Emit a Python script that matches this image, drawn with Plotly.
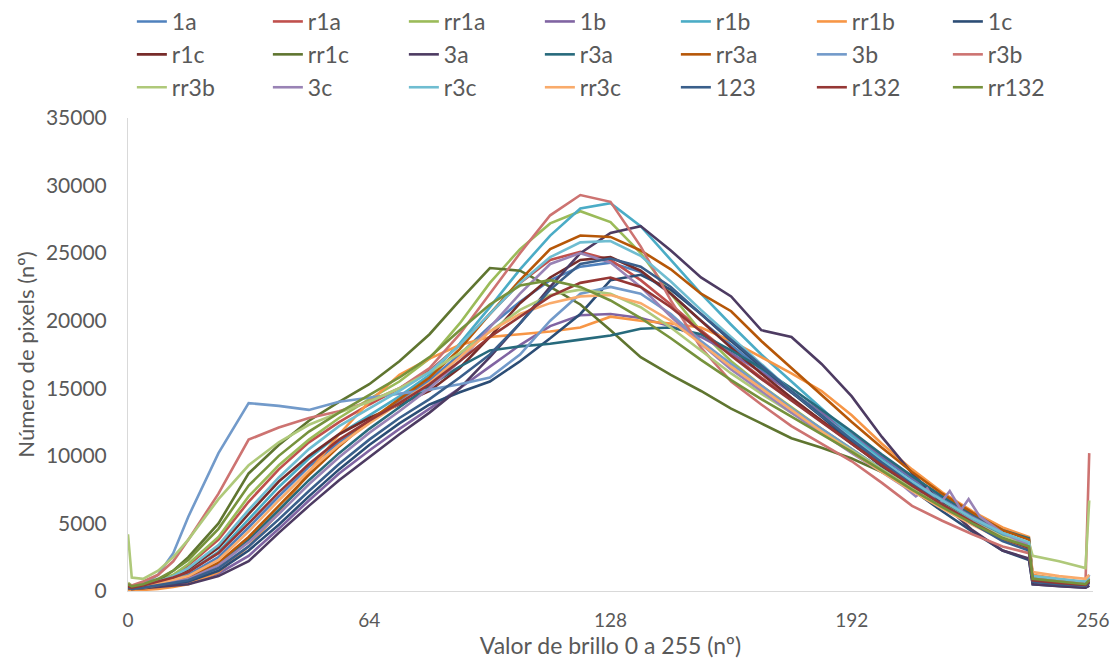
import plotly.graph_objects as go

# Brightness values (x) sampled for most series
X = [0, 1, 4, 8, 12, 16, 24, 32, 40, 48, 56, 64, 72, 80, 88, 96, 104, 112, 120, 128,
     136, 144, 152, 160, 168, 176, 184, 192, 200, 208, 216, 224, 232, 239, 240, 247, 254, 255]

# Series "3c" has extra samples around its wiggles near 210-225
X_3C = [0, 1, 4, 8, 12, 16, 24, 32, 40, 48, 56, 64, 72, 80, 88, 96, 104, 112, 120, 128,
        136, 144, 152, 160, 168, 176, 184, 192, 200, 206, 209, 212, 215, 218, 221, 223, 226,
        232, 239, 240, 247, 254, 255]

s_1a = [300, 200, 300, 500, 800, 1200, 2500, 4700, 7000, 9200, 11000, 12600, 14000, 15600,
        17500, 19600, 21400, 23000, 24000, 24300, 23600, 22000, 20000, 18200, 16400, 14700,
        13100, 11500, 9900, 8300, 6800, 5400, 4200, 3500, 800, 600, 400, 700]
s_r1a = [400, 300, 400, 700, 1100, 1900, 3800, 6600, 9000, 11000, 12500, 13800, 15000, 16300,
         18200, 20500, 22800, 24500, 25100, 24500, 23000, 21200, 19300, 17500, 15800, 14200,
         12600, 11000, 9400, 7900, 6500, 5200, 4100, 3400, 900, 700, 500, 800]
s_rr1a = [600, 400, 500, 800, 1200, 2000, 4000, 7000, 9300, 11200, 12800, 14200, 15500, 17200,
          19800, 22800, 25300, 27200, 28100, 27300, 25000, 22000, 19200, 17000, 15200, 13600,
          12000, 10500, 9000, 7500, 6200, 5000, 3900, 3300, 900, 700, 500, 900]
s_1b = [200, 150, 200, 300, 450, 600, 1300, 2600, 4600, 6700, 8700, 10400, 12000, 13500,
        15000, 16600, 18200, 19600, 20400, 20500, 20200, 19600, 18800, 17600, 16200, 14700,
        13200, 11600, 10000, 8400, 7000, 5600, 4300, 3500, 700, 500, 350, 600]
s_r1b = [300, 200, 300, 500, 850, 1400, 2900, 5300, 7700, 9800, 11600, 13000, 14400, 16000,
         18300, 21000, 23800, 26300, 28300, 28700, 27000, 24500, 22000, 19700, 17500, 15500,
         13500, 11500, 9700, 8000, 6600, 5300, 4200, 3500, 900, 700, 500, 800]
s_rr1b = [100, 50, 80, 150, 300, 500, 1400, 3300, 5800, 8800, 11600, 14000, 16000, 17200,
          18200, 18800, 19000, 19200, 19500, 20300, 20000, 19800, 19500, 18500, 17300, 16100,
          14800, 13000, 10900, 9000, 7300, 5900, 4700, 4000, 1200, 900, 600, 900]
s_1c = [300, 200, 250, 400, 550, 700, 1500, 3000, 4900, 7000, 9000, 10800, 12400, 13800,
        14700, 15500, 17000, 18700, 20500, 23000, 23400, 22300, 20500, 18500, 16600, 14700,
        12900, 11000, 9200, 7500, 5900, 4400, 3000, 2300, 500, 350, 250, 400]
s_r1c = [300, 200, 300, 600, 1000, 1600, 3200, 5700, 8100, 10000, 11600, 12800, 13800, 14800,
         16500, 18800, 21300, 23200, 24500, 24700, 23700, 22000, 20000, 18000, 16100, 14300,
         12600, 10900, 9300, 7800, 6300, 5000, 3800, 3100, 800, 600, 400, 700]
s_rr1c = [400, 300, 450, 800, 1500, 2500, 5000, 8700, 10800, 12600, 14000, 15300, 17000, 19000,
          21500, 23900, 23700, 22500, 21200, 19300, 17300, 16000, 14800, 13500, 12400, 11300,
          10600, 9800, 8800, 7700, 6500, 5200, 4000, 3300, 800, 600, 400, 700]
s_3a = [200, 150, 200, 300, 400, 500, 1100, 2200, 4300, 6300, 8200, 9900, 11600, 13200,
        15000, 17300, 19800, 22500, 25000, 26500, 27000, 25200, 23200, 21800, 19300, 18800,
        16800, 14400, 11400, 8700, 6500, 4500, 3000, 2400, 500, 350, 250, 400]
s_r3a = [300, 200, 250, 450, 700, 1000, 2000, 3800, 6000, 8200, 10200, 12000, 13600, 15200,
         16600, 17800, 18100, 18300, 18600, 18900, 19400, 19500, 19000, 17800, 16500, 15000,
         13400, 11800, 10100, 8500, 7000, 5700, 4500, 3900, 1000, 800, 600, 900]
s_rr3a = [200, 150, 200, 400, 650, 1000, 2100, 4000, 6300, 8600, 10700, 12600, 14200, 15800,
          17900, 20500, 23000, 25300, 26300, 26200, 25200, 23800, 22000, 20700, 18500, 16500,
          14500, 12500, 10600, 8800, 7200, 5800, 4500, 3800, 1000, 800, 600, 900]
s_3b = [300, 250, 500, 1200, 2800, 5500, 10200, 13900, 13700, 13400, 14000, 14300, 14600, 14900,
        15300, 15800, 17500, 20000, 22000, 22500, 22000, 20500, 18500, 16800, 15200, 13500,
        12000, 10500, 9000, 7600, 6400, 5200, 4000, 3300, 900, 700, 500, 1200]
s_r3b = [500, 400, 700, 1200, 2200, 3800, 7200, 11200, 12100, 12800, 13300, 14000, 15000, 16500,
         19000, 22000, 25000, 27800, 29300, 28800, 25500, 21500, 18000, 15500, 13800, 12200,
         10900, 9600, 8000, 6300, 5200, 4200, 3300, 2800, 900, 700, 500, 10200]
s_rr3b = [4200, 1000, 900, 1500, 2500, 3800, 6800, 9300, 11000, 12300, 13200, 14000, 15000, 16200,
          17600, 19200, 20800, 21900, 22300, 22000, 21000, 19500, 17800, 16100, 14600, 13200,
          11800, 10400, 9000, 7600, 6300, 5100, 4000, 3600, 2600, 2200, 1700, 6700]
s_3c = [300, 200, 250, 500, 700, 900, 1900, 3600, 5700, 7900, 9900, 11700, 13300, 15000,
        17000, 19500, 22000, 24200, 25000, 24300, 22500, 20300, 18300, 16400, 14800, 13200,
        11700, 10200, 8800, 7700, 7000, 7600, 6300, 7400, 6000, 6800, 5500,
        4300, 3400, 800, 600, 400, 700]
s_r3c = [400, 300, 400, 700, 1100, 1700, 3400, 6000, 8400, 10500, 12200, 13500, 14800, 16200,
         18200, 20500, 22800, 24700, 25800, 25900, 24800, 22900, 20800, 18800, 16800, 14800,
         13000, 11300, 9600, 8100, 6700, 5400, 4300, 3600, 1100, 900, 700, 1000]
s_rr3c = [300, 200, 300, 550, 800, 1100, 2300, 4400, 6700, 8900, 10800, 12400, 13900, 15400,
          17300, 19200, 20500, 21300, 21800, 21900, 21300, 20000, 18300, 16600, 15000, 13400,
          11800, 10300, 8800, 7400, 6100, 4900, 3800, 3200, 1400, 1100, 900, 1200]
s_123 = [250, 150, 250, 400, 600, 800, 1700, 3300, 5300, 7400, 9400, 11200, 12800, 14200,
         15800, 17500, 19800, 22300, 24200, 24600, 24000, 22500, 20500, 18600, 16700, 14800,
         13000, 11200, 9500, 7900, 6400, 5000, 3700, 3000, 700, 500, 400, 600]
s_r132 = [350, 250, 400, 700, 1000, 1400, 2800, 5000, 7300, 9400, 11200, 12600, 13900, 15300,
          17000, 18800, 20300, 21800, 22800, 23200, 22500, 21000, 19200, 17400, 15700, 14100,
          12500, 10900, 9300, 7800, 6400, 5100, 3900, 3200, 800, 600, 450, 700]
s_rr132 = [500, 350, 500, 900, 1500, 2300, 4600, 7800, 10000, 11800, 13200, 14500, 15800, 17300,
           19300, 21200, 22600, 23000, 22500, 21500, 20200, 18700, 17100, 15600, 14200, 12900,
           11600, 10300, 8900, 7500, 6200, 5000, 3900, 3300, 900, 700, 500, 800]

names = ["1a", "r1a", "rr1a", "1b", "r1b", "rr1b", "1c", "r1c", "rr1c", "3a", "r3a", "rr3a",
         "3b", "r3b", "rr3b", "3c", "r3c", "rr3c", "123", "r132", "rr132"]
values = [s_1a, s_r1a, s_rr1a, s_1b, s_r1b, s_rr1b, s_1c, s_r1c, s_rr1c, s_3a, s_r3a, s_rr3a,
          s_3b, s_r3b, s_rr3b, s_3c, s_r3c, s_rr3c, s_123, s_r132, s_rr132]
colors = ["#4F81BD", "#C0504D", "#9BBB59", "#8064A2", "#4BACC6", "#F79646",
          "#2C4D75", "#772C2A", "#5F7530", "#4D3B62", "#276A7C", "#B65708",
          "#729ACA", "#CD7371", "#AFC97A", "#9983B5", "#6FBDD1", "#F9AB6B",
          "#3A5F8B", "#953735", "#76923C"]

fig = go.Figure()
for name, vals, col in zip(names, values, colors):
    xs = X_3C if name == "3c" else X
    fig.add_trace(go.Scatter(x=xs, y=vals, mode="lines", name=name,
                             line=dict(color=col, width=2.6)))

fig.update_layout(
    width=1116, height=665,
    margin=dict(l=128, r=23, t=118, b=74, autoexpand=False),
    plot_bgcolor="white", paper_bgcolor="white",
    font=dict(family="Lato, 'Open Sans', sans-serif", color="#595959"),
    legend=dict(orientation="h", x=0.004, y=1.0, yref="container",
                xanchor="left", yanchor="top",
                entrywidth=91, entrywidthmode="pixels",
                font=dict(size=23, color="#595959"), tracegroupgap=0),
    xaxis=dict(range=[0, 256], tickvals=[0, 64, 128, 192, 256], showgrid=False,
               zeroline=False, showline=True, linecolor="#D9D9D9", linewidth=1,
               ticks="", ticklabelstandoff=12,
               tickfont=dict(family="'Liberation Sans Narrow', Lato, sans-serif", size=19,
                             color="#595959"),
               title=dict(text="Valor de brillo 0 a 255 (nº)", standoff=4,
                          font=dict(family="'Liberation Sans Narrow', Lato, sans-serif",
                                    size=23, color="#595959"))),
    yaxis=dict(range=[0, 35000], dtick=5000, tickformat="d", showgrid=False, zeroline=False,
               showline=True, linecolor="#D9D9D9", linewidth=1, ticks="",
               ticklabelstandoff=16,
               tickfont=dict(size=21, color="#595959"),
               title=dict(text="Número de pixels (nº)", standoff=5,
                          font=dict(size=22, color="#595959"))),
)

fig.write_html("out.html")
